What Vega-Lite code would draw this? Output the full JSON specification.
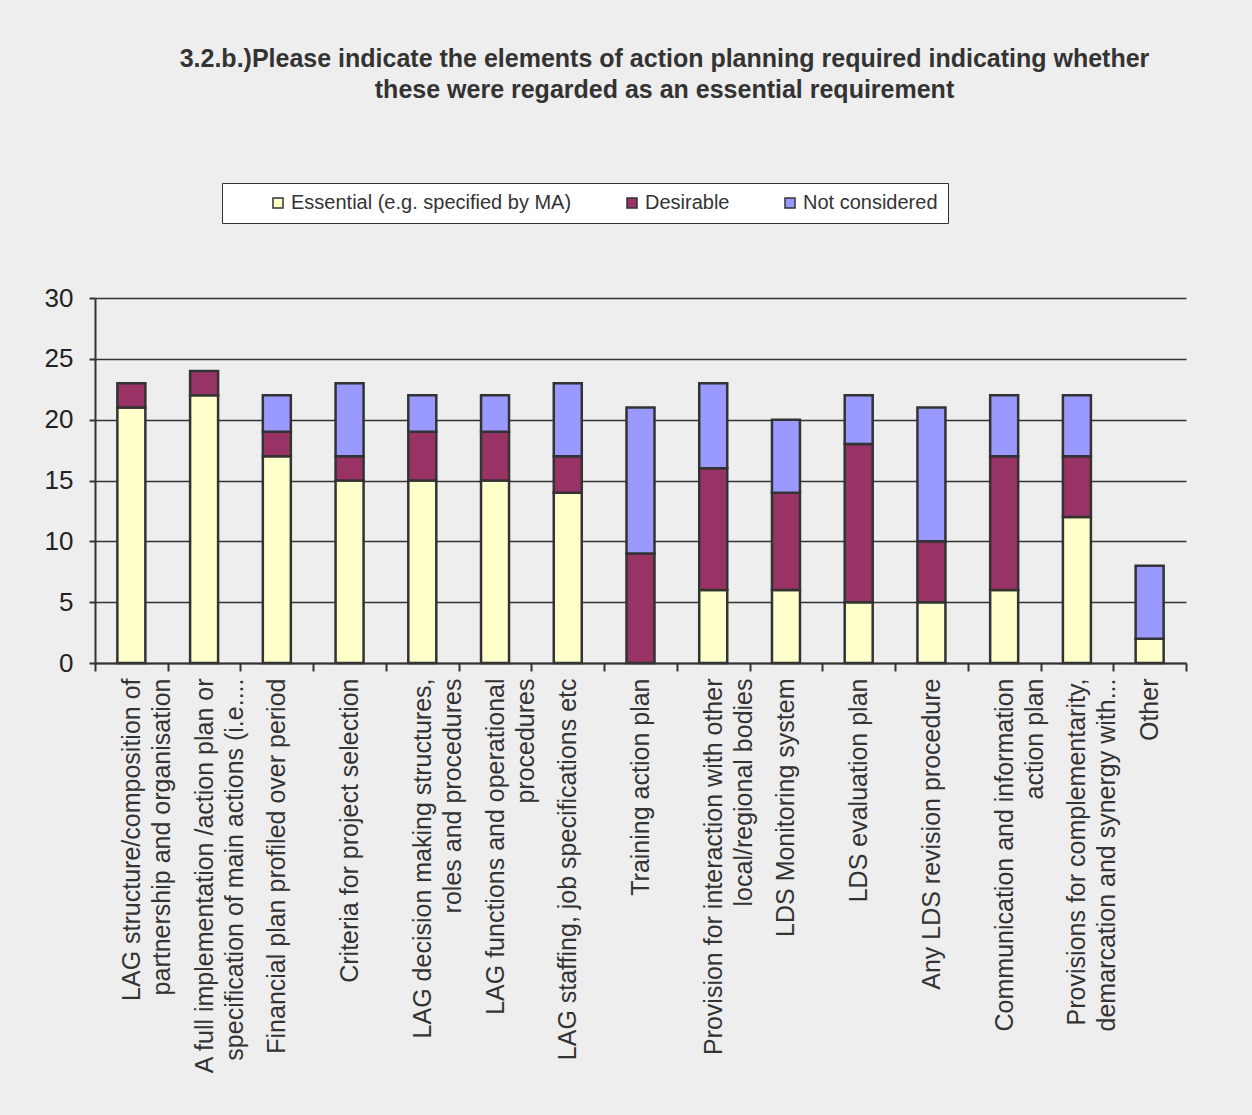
{
  "$schema": "https://vega.github.io/schema/vega-lite/v6.json",
  "width": 1091,
  "height": 365,
  "autosize": {"type": "none"},
  "padding": {"left": 95, "top": 298, "right": 66, "bottom": 452},
  "background": "#eeeeee",
  "title": {
    "text": [
      "3.2.b.)Please indicate the elements of action planning  required  indicating whether",
      "these were regarded as an essential requirement"
    ],
    "font": "Liberation Sans",
    "fontSize": 25,
    "fontWeight": "bold",
    "color": "#333333",
    "lineHeight": 31,
    "anchor": "middle",
    "frame": "group",
    "dx": 24,
    "offset": 80
  },
  "data": {
    "values": [
      {"item": "LAG structure/composition of|partnership and organisation", "response": "Essential (e.g. specified by MA)", "rank": 1, "count": 21},
      {"item": "LAG structure/composition of|partnership and organisation", "response": "Desirable", "rank": 2, "count": 2},
      {"item": "A full implementation /action plan or|specification of main actions (i.e....", "response": "Essential (e.g. specified by MA)", "rank": 1, "count": 22},
      {"item": "A full implementation /action plan or|specification of main actions (i.e....", "response": "Desirable", "rank": 2, "count": 2},
      {"item": "Financial plan profiled over period", "response": "Essential (e.g. specified by MA)", "rank": 1, "count": 17},
      {"item": "Financial plan profiled over period", "response": "Desirable", "rank": 2, "count": 2},
      {"item": "Financial plan profiled over period", "response": "Not considered", "rank": 3, "count": 3},
      {"item": "Criteria for project selection", "response": "Essential (e.g. specified by MA)", "rank": 1, "count": 15},
      {"item": "Criteria for project selection", "response": "Desirable", "rank": 2, "count": 2},
      {"item": "Criteria for project selection", "response": "Not considered", "rank": 3, "count": 6},
      {"item": "LAG decision making structures,|roles and procedures", "response": "Essential (e.g. specified by MA)", "rank": 1, "count": 15},
      {"item": "LAG decision making structures,|roles and procedures", "response": "Desirable", "rank": 2, "count": 4},
      {"item": "LAG decision making structures,|roles and procedures", "response": "Not considered", "rank": 3, "count": 3},
      {"item": "LAG functions and  operational|procedures", "response": "Essential (e.g. specified by MA)", "rank": 1, "count": 15},
      {"item": "LAG functions and  operational|procedures", "response": "Desirable", "rank": 2, "count": 4},
      {"item": "LAG functions and  operational|procedures", "response": "Not considered", "rank": 3, "count": 3},
      {"item": "LAG staffing, job specifications etc", "response": "Essential (e.g. specified by MA)", "rank": 1, "count": 14},
      {"item": "LAG staffing, job specifications etc", "response": "Desirable", "rank": 2, "count": 3},
      {"item": "LAG staffing, job specifications etc", "response": "Not considered", "rank": 3, "count": 6},
      {"item": "Training action plan", "response": "Desirable", "rank": 2, "count": 9},
      {"item": "Training action plan", "response": "Not considered", "rank": 3, "count": 12},
      {"item": "Provision for interaction with other|local/regional bodies", "response": "Essential (e.g. specified by MA)", "rank": 1, "count": 6},
      {"item": "Provision for interaction with other|local/regional bodies", "response": "Desirable", "rank": 2, "count": 10},
      {"item": "Provision for interaction with other|local/regional bodies", "response": "Not considered", "rank": 3, "count": 7},
      {"item": "LDS Monitoring system", "response": "Essential (e.g. specified by MA)", "rank": 1, "count": 6},
      {"item": "LDS Monitoring system", "response": "Desirable", "rank": 2, "count": 8},
      {"item": "LDS Monitoring system", "response": "Not considered", "rank": 3, "count": 6},
      {"item": "LDS evaluation plan", "response": "Essential (e.g. specified by MA)", "rank": 1, "count": 5},
      {"item": "LDS evaluation plan", "response": "Desirable", "rank": 2, "count": 13},
      {"item": "LDS evaluation plan", "response": "Not considered", "rank": 3, "count": 4},
      {"item": "Any LDS revision procedure", "response": "Essential (e.g. specified by MA)", "rank": 1, "count": 5},
      {"item": "Any LDS revision procedure", "response": "Desirable", "rank": 2, "count": 5},
      {"item": "Any LDS revision procedure", "response": "Not considered", "rank": 3, "count": 11},
      {"item": "Communication and information|action plan", "response": "Essential (e.g. specified by MA)", "rank": 1, "count": 6},
      {"item": "Communication and information|action plan", "response": "Desirable", "rank": 2, "count": 11},
      {"item": "Communication and information|action plan", "response": "Not considered", "rank": 3, "count": 5},
      {"item": "Provisions for complementarity,|demarcation and synergy with...", "response": "Essential (e.g. specified by MA)", "rank": 1, "count": 12},
      {"item": "Provisions for complementarity,|demarcation and synergy with...", "response": "Desirable", "rank": 2, "count": 5},
      {"item": "Provisions for complementarity,|demarcation and synergy with...", "response": "Not considered", "rank": 3, "count": 5},
      {"item": "Other", "response": "Essential (e.g. specified by MA)", "rank": 1, "count": 2},
      {"item": "Other", "response": "Not considered", "rank": 3, "count": 6}
    ]
  },
  "mark": {"type": "bar", "stroke": "#333333", "strokeWidth": 2.5, "width": 28},
  "encoding": {
    "x": {
      "field": "item",
      "type": "nominal",
      "sort": null,
      "scale": {"paddingInner": 0, "paddingOuter": 0},
      "axis": {
        "title": null,
        "labelAngle": -90,
        "labelAlign": "right",
        "labelBaseline": "middle",
        "labelExpr": "split(datum.label, '|')",
        "labelLineHeight": 30,
        "labelFont": "Liberation Sans",
        "labelFontSize": 25,
        "labelColor": "#333333",
        "labelLimit": 600,
        "labelPadding": 7,
        "tickBand": "extent",
        "tickSize": 8,
        "tickColor": "#333333",
        "tickWidth": 2,
        "domainColor": "#333333",
        "domainWidth": 2,
        "grid": false
      }
    },
    "y": {
      "field": "count",
      "type": "quantitative",
      "stack": "zero",
      "scale": {"domain": [0, 30]},
      "axis": {
        "title": null,
        "values": [0, 5, 10, 15, 20, 25, 30],
        "labelFont": "Liberation Sans",
        "labelFontSize": 26,
        "labelColor": "#222222",
        "labelPadding": 16,
        "tickSize": 6,
        "tickColor": "#333333",
        "tickWidth": 2,
        "domainColor": "#333333",
        "domainWidth": 2,
        "grid": true,
        "gridColor": "#333333",
        "gridWidth": 1.3,
        "gridOpacity": 1
      }
    },
    "color": {
      "field": "response",
      "type": "nominal",
      "scale": {
        "domain": ["Essential (e.g. specified by MA)", "Desirable", "Not considered"],
        "range": ["#ffffcc", "#993366", "#9999ff"]
      },
      "legend": {
        "title": null,
        "orient": "none",
        "legendX": 127,
        "legendY": -115,
        "direction": "horizontal",
        "columns": 3,
        "fillColor": "#ffffff",
        "strokeColor": "#333333",
        "padding": 10,
        "symbolOffset": 36,
        "symbolType": "square",
        "symbolSize": 100,
        "symbolStrokeColor": "#333333",
        "symbolStrokeWidth": 1.5,
        "labelFont": "Liberation Sans",
        "labelFontSize": 20,
        "labelColor": "#333333",
        "labelOffset": 3,
        "labelLimit": 400,
        "columnPadding": 14
      }
    },
    "order": {"field": "rank"}
  },
  "config": {
    "view": {"stroke": null}
  }
}
